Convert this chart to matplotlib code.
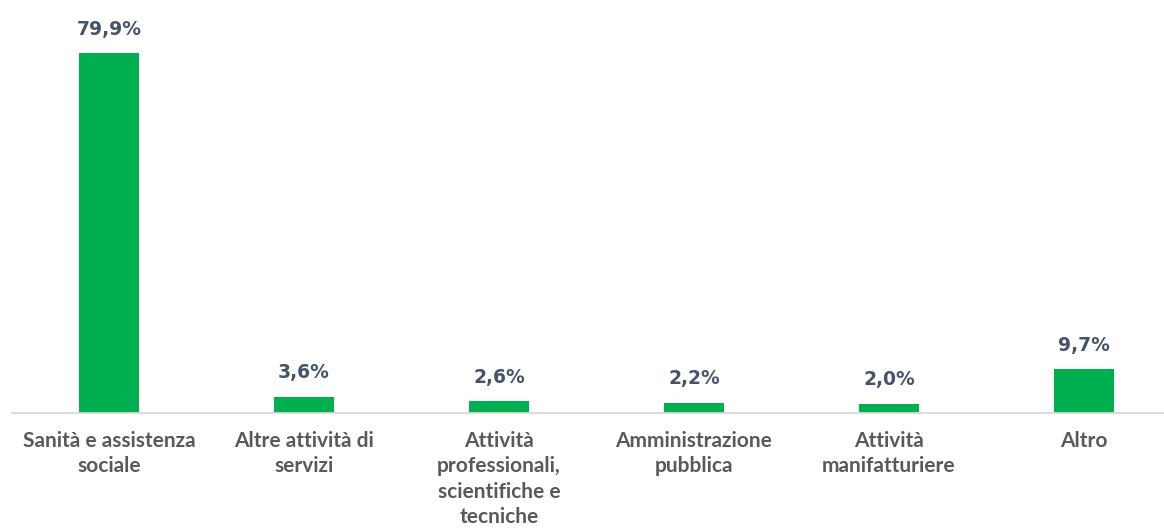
import matplotlib
matplotlib.use("Agg")
import matplotlib.pyplot as plt

categories = [
    "Sanità e assistenza\nsociale",
    "Altre attività di\nservizi",
    "Attività\nprofessionali,\nscientifiche e\ntecniche",
    "Amministrazione\npubblica",
    "Attività\nmanifatturiere",
    "Altro",
]
values = [79.9, 3.6, 2.6, 2.2, 2.0, 9.7]
value_labels = ["79,9%", "3,6%", "2,6%", "2,2%", "2,0%", "9,7%"]

W, H = 1164, 529
fig = plt.figure(figsize=(W / 100, H / 100), dpi=100)
ax = fig.add_axes([11.5 / W, 116 / H, 1 - 11.5 / W, 413 / H])

x = list(range(len(categories)))
ax.bar(x, values, width=0.31, color="#00B050", zorder=2)

# percentage labels above each bar
for xi, v, lab in zip(x, values, value_labels):
    ax.annotate(lab, (xi, v), xytext=(0, 13.5), textcoords="offset points",
                ha="center", va="baseline", fontsize=13.5, fontweight="bold",
                color="#44546A", family="DejaVu Sans")

ax.set_xlim(-0.5, -0.5 + (W - 11.5) / 195)
ax.set_ylim(0, 413 / 4.5)
ax.set_xticks(x)
ax.set_xticklabels(categories, fontsize=15, fontweight="bold",
                   color="#595959", family="Lato", linespacing=1.33)
ax.tick_params(axis="x", length=0, pad=13)
ax.set_yticks([])
for side in ("left", "right", "top"):
    ax.spines[side].set_visible(False)
ax.spines["bottom"].set_color("#D9D9D9")
ax.spines["bottom"].set_linewidth(1.3)

fig.savefig("out.png", dpi=100)
